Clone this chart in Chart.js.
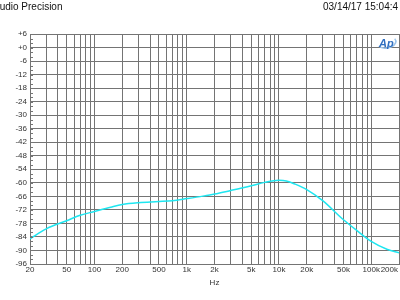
<!DOCTYPE html>
<html lang="en">

<head>
  <meta charset="UTF-8" />
  <title>Audio Precision</title>
  <style>
    body {
      margin: 0;
      background: #fff;
    }

    div {
      width: 400px;
      height: 300px;
    }
  </style>
</head>

<body>
  <div>
    <canvas id="myChart"></canvas>
  </div>

  <script src="https://cdn.jsdelivr.net/npm/chart.js"></script>
  <script>
    // response (Hz, dB)
    const freqs = [20, 30, 50, 70, 100, 150, 200, 300, 500, 700, 1000, 1500, 2000, 3000, 5000, 7000,
      10000, 12000, 15000, 20000, 30000, 50000, 70000, 100000, 150000, 200000];
    const levels = [-84.8, -80.4, -76.8, -74.4, -72.7, -70.8, -69.6, -68.8, -68.3, -67.9, -67.0, -65.9,
      -65.0, -63.4, -61.3, -59.8, -58.9, -59.2, -60.6, -63.0, -68.0, -76.4, -81.2, -86.0, -89.6, -91.0];

    const gridFreqs = [20, 30, 40, 50, 60, 70, 80, 90, 100, 200, 300, 400, 500, 600, 700, 800, 900,
      1000, 2000, 3000, 4000, 5000, 6000, 7000, 8000, 9000, 10000, 20000, 30000, 40000, 50000,
      60000, 70000, 80000, 90000, 100000, 200000];
    const xLabels = [20, 50, 100, 200, 500, 1000, 2000, 5000, 10000, 20000, 50000, 100000, 200000];
    const yMin = -96, yMax = 6, yStep = 6, yMinorStep = 2;

    const font = '"Liberation Sans", Arial, sans-serif';
    const gridColor = "#747474";

    function fmtHz(v) {
      return v >= 1000 ? v / 1000 + "k" : String(v);
    }

    // header texts, x labels, minor y ticks, Ap logo
    const decor = {
      id: "decor",
      afterDraw(chart) {
        const ctx = chart.ctx;
        const x = chart.scales.x, y = chart.scales.y;
        const area = chart.chartArea;
        ctx.save();

        ctx.strokeStyle = gridColor;
        ctx.lineWidth = 1;
        ctx.beginPath();
        for (let v = yMin; v <= yMax; v += yMinorStep) {
          const py = Math.round(y.getPixelForValue(v)) + 0.5;
          ctx.moveTo(area.left, py);
          ctx.lineTo(area.left + 3, py);
        }
        ctx.stroke();

        ctx.fillStyle = "#333";
        ctx.font = "8px " + font;
        ctx.textBaseline = "top";
        ctx.textAlign = "center";
        xLabels.forEach((v) => {
          const t = fmtHz(v);
          const w = ctx.measureText(t).width;
          let px = x.getPixelForValue(v);
          if (px + w / 2 > 398) px = 398 - w / 2;
          ctx.fillText(t, px, area.bottom + 2);
        });
        ctx.fillText("Hz", (area.left + area.right) / 2, 279);

        ctx.font = "10px " + font;
        ctx.textBaseline = "alphabetic";
        ctx.textAlign = "left";
        ctx.fillStyle = "#111";
        ctx.fillText("Audio Precision", -7, 10);
        ctx.fillText("03/14/17 15:04:4", 323, 10);

        // Ap logo
        ctx.strokeStyle = "#9cc3ea";
        ctx.lineWidth = 1.5;
        ctx.beginPath();
        ctx.ellipse(387, 42.5, 9, 5.5, -0.2, -0.4, Math.PI * 0.9);
        ctx.stroke();
        ctx.fillStyle = "#2f6fc0";
        ctx.font = "italic bold 11px " + font;
        ctx.fillText("Ap", 379, 47);

        ctx.restore();
      },
    };

    const ctx = document.getElementById("myChart");
    new Chart(ctx, {
      type: "line",
      data: {
        labels: freqs,
        datasets: [
          {
            data: freqs.map((f, i) => ({ x: f, y: levels[i] })),
            borderColor: "#1ee6f0",
            borderWidth: 1.5,
            pointRadius: 0,
            cubicInterpolationMode: "monotone",
            fill: false,
          },
        ],
      },
      options: {
        responsive: true,
        maintainAspectRatio: false,
        animation: false,
        layout: { padding: { top: 34, right: 1, left: 0, bottom: 0 } },
        plugins: { legend: { display: false }, tooltip: { enabled: false } },
        scales: {
          x: {
            type: "logarithmic",
            min: 20,
            max: 200000,
            afterBuildTicks: (scale) => {
              scale.ticks = gridFreqs.map((v) => ({ value: v }));
            },
            afterFit: (scale) => {
              scale.height = 36;
            },
            ticks: { display: false },
            grid: { color: gridColor, drawTicks: false },
            border: { color: gridColor },
          },
          y: {
            min: yMin,
            max: yMax,
            afterFit: (scale) => {
              scale.width = 30;
            },
            ticks: {
              stepSize: yStep,
              autoSkip: false,
              padding: 3,
              color: "#333",
              font: { family: font, size: 8 },
              callback: (v) => (v >= 0 ? "+" + v : String(v)),
            },
            grid: { color: gridColor, drawTicks: false },
            border: { color: gridColor },
          },
        },
      },
      plugins: [decor],
    });
  </script>
</body>

</html>
